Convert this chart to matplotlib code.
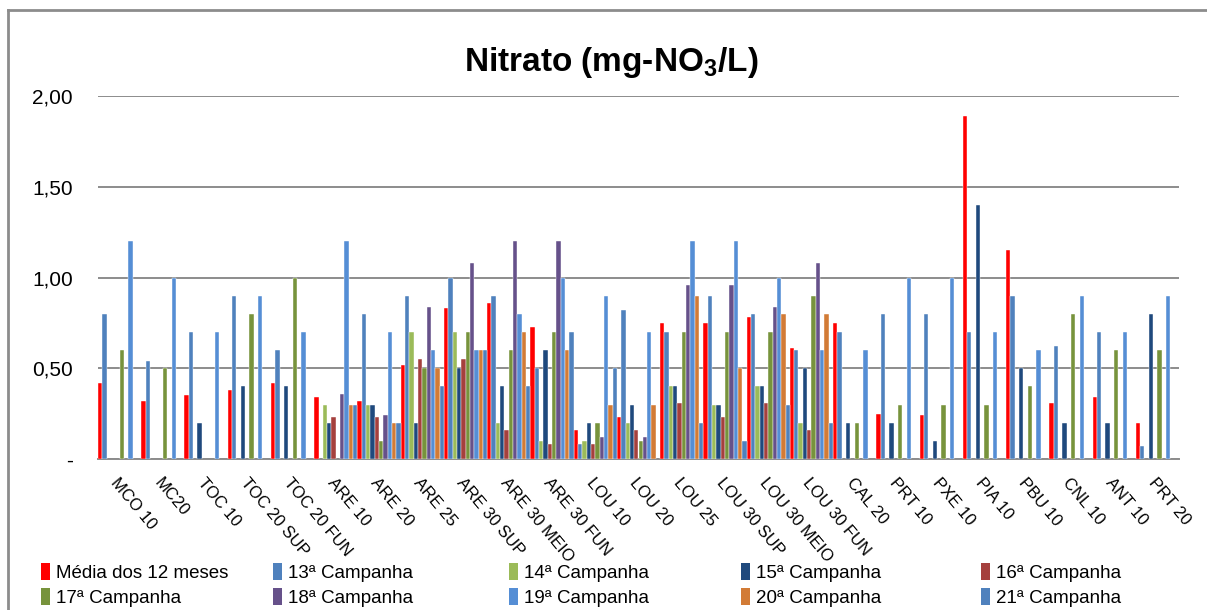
import numpy as np
import matplotlib
matplotlib.use("Agg")
import matplotlib.pyplot as plt
from matplotlib.patches import Rectangle

plt.rcParams['font.family'] = ['Liberation Sans', 'DejaVu Sans']
plt.rcParams['mathtext.fontset'] = 'custom'
plt.rcParams['mathtext.rm'] = 'Liberation Sans:bold'
plt.rcParams['mathtext.default'] = 'rm'

nan = np.nan
categories = ["MCO 10", "MC20", "TOC 10", "TOC 20 SUP", "TOC 20 FUN", "ARE 10", "ARE 20",
              "ARE 25", "ARE 30 SUP", "ARE 30 MEIO", "ARE 30 FUN", "LOU 10", "LOU 20",
              "LOU 25", "LOU 30 SUP", "LOU 30 MEIO", "LOU 30 FUN", "CAL 20", "PRT 10",
              "PXE 10", "PIA 10", "PBU 10", "CNL 10", "ANT 10", "PRT 20"]

media = [0.42, 0.32, 0.35, 0.38, 0.42, 0.34, 0.32, 0.52, 0.83, 0.86, 0.73, 0.16, 0.23,
         0.75, 0.75, 0.78, 0.61, 0.75, 0.25, 0.24, 1.89, 1.15, 0.31, 0.34, 0.20]
c13 = [0.80, 0.54, 0.70, 0.90, 0.60, nan, 0.80, 0.90, 1.00, 0.90, 0.50, 0.08, 0.82,
       0.70, 0.90, 0.80, 0.60, 0.70, 0.80, 0.80, 0.70, 0.90, 0.62, 0.70, 0.07]
c14 = [nan, nan, nan, nan, nan, 0.30, 0.30, 0.70, 0.70, 0.20, 0.10, 0.10, 0.20,
       0.40, 0.30, 0.40, 0.20, nan, nan, nan, nan, nan, nan, nan, nan]
c15 = [nan, nan, 0.20, 0.40, 0.40, 0.20, 0.30, 0.20, 0.50, 0.40, 0.60, 0.20, 0.30,
       0.40, 0.30, 0.40, 0.50, 0.20, 0.20, 0.10, 1.40, 0.50, 0.20, 0.20, 0.80]
c16 = [nan, nan, nan, nan, nan, 0.23, 0.23, 0.55, 0.55, 0.16, 0.08, 0.08, 0.16,
       0.31, 0.23, 0.31, 0.16, nan, nan, nan, nan, nan, nan, nan, nan]
c17 = [0.60, 0.50, nan, 0.80, 1.00, nan, 0.10, 0.50, 0.70, 0.60, 0.70, 0.20, 0.10,
       0.70, 0.70, 0.70, 0.90, 0.20, 0.30, 0.30, 0.30, 0.40, 0.80, 0.60, 0.60]
c18 = [nan, nan, nan, nan, nan, 0.36, 0.24, 0.84, 1.08, 1.20, 1.20, 0.12, 0.12,
       0.96, 0.96, 0.84, 1.08, nan, nan, nan, nan, nan, nan, nan, nan]
c19 = [1.20, 1.00, 0.70, 0.90, 0.70, 1.20, 0.70, 0.60, 0.60, 0.80, 1.00, 0.90, 0.70,
       1.20, 1.20, 1.00, 0.60, 0.60, 1.00, 1.00, 0.70, 0.60, 0.90, 0.70, 0.90]
c20 = [nan, nan, nan, nan, nan, 0.30, 0.20, 0.50, 0.60, 0.70, 0.60, 0.30, 0.30,
       0.90, 0.50, 0.80, 0.80, nan, nan, nan, nan, nan, nan, nan, nan]
c21 = [nan, nan, nan, nan, nan, 0.30, 0.20, 0.40, 0.60, 0.40, 0.70, 0.50, nan,
       0.20, 0.10, 0.30, 0.20, nan, nan, nan, nan, nan, nan, nan, nan]

series_names = ["Média dos 12 meses", "13ª Campanha", "14ª Campanha", "15ª Campanha",
                "16ª Campanha", "17ª Campanha", "18ª Campanha", "19ª Campanha",
                "20ª Campanha", "21ª Campanha"]
series_values = [media, c13, c14, c15, c16, c17, c18, c19, c20, c21]
colors = ["#FF0000", "#4F81BD", "#9BBB59", "#1F497D", "#A5403D",
          "#77933C", "#66518A", "#558ED5", "#D27B36", "#4F81BD"]

y_ticks = [0, 0.5, 1.0, 1.5, 2.0]
y_ticklabels = ["-", "0,50", "1,00", "1,50", "2,00"]

W, H = 1207, 610
fig = plt.figure(figsize=(W / 100, H / 100), dpi=100)
fig.patch.set_facecolor("white")
ax = fig.add_axes([98 / W, 1 - 459 / H, (1179 - 98) / W, (459 - 96) / H])

x = np.arange(len(categories))
n = len(series_values)
bw = 1.0 / n
handles = []
for i, (vals, col) in enumerate(zip(series_values, colors)):
    v = np.array(vals, dtype=float)
    mask = ~np.isnan(v)
    ax.bar(x[mask] + (i - (n - 1) / 2) * bw, v[mask], width=bw, color=col,
           edgecolor="white", linewidth=0.3, zorder=3)
    handles.append(Rectangle((0, 0), 1, 1, facecolor=col, edgecolor="none"))

ax.set_xlim(-0.5, len(categories) - 0.5)
ax.set_ylim(0, 2.0)
ax.set_yticks(y_ticks)
ax.set_yticklabels(y_ticklabels, fontsize=15)
ax.yaxis.grid(True, color="#8C8C8C", linewidth=1.4, zorder=0)
ax.set_axisbelow(True)
for s in ["left", "right", "top"]:
    ax.spines[s].set_visible(False)
ax.spines["bottom"].set_color("#8C8C8C")
ax.spines["bottom"].set_linewidth(1.4)
ax.tick_params(axis="y", length=0, pad=18)
ax.tick_params(axis="x", length=0, pad=12)
ax.set_xticks(x)
ax.set_xticklabels(categories, rotation=-50, ha="left", va="top",
                   rotation_mode="anchor", fontsize=12)

fig.text(611 / W, 1 - 62 / H, r"Nitrato (mg-NO$_3$/L)", ha="center", va="center",
         fontsize=24, fontweight="bold")

# legend: 5 columns x 2 rows
col_x = [41, 273, 509, 741, 981]
for j, cx in enumerate(col_x):
    hh = [handles[j], handles[j + 5]]
    ll = [series_names[j], series_names[j + 5]]
    fig.legend(hh, ll, loc="upper left", bbox_to_anchor=(cx / W, 1 - 563 / H),
               frameon=False, fontsize=13.5, handlelength=0.5, handleheight=1.0,
               handletextpad=0.3, labelspacing=0.35, borderpad=0, borderaxespad=0)

# outer chart border
fig.add_artist(plt.Line2D([8 / W, 8 / W], [0, 1 - 10 / H], color="#8C8C8C", lw=2,
                          transform=fig.transFigure))
fig.add_artist(plt.Line2D([8 / W, 1], [1 - 10 / H, 1 - 10 / H], color="#8C8C8C", lw=2,
                          transform=fig.transFigure))

fig.savefig("out.png", dpi=100, facecolor="white")
